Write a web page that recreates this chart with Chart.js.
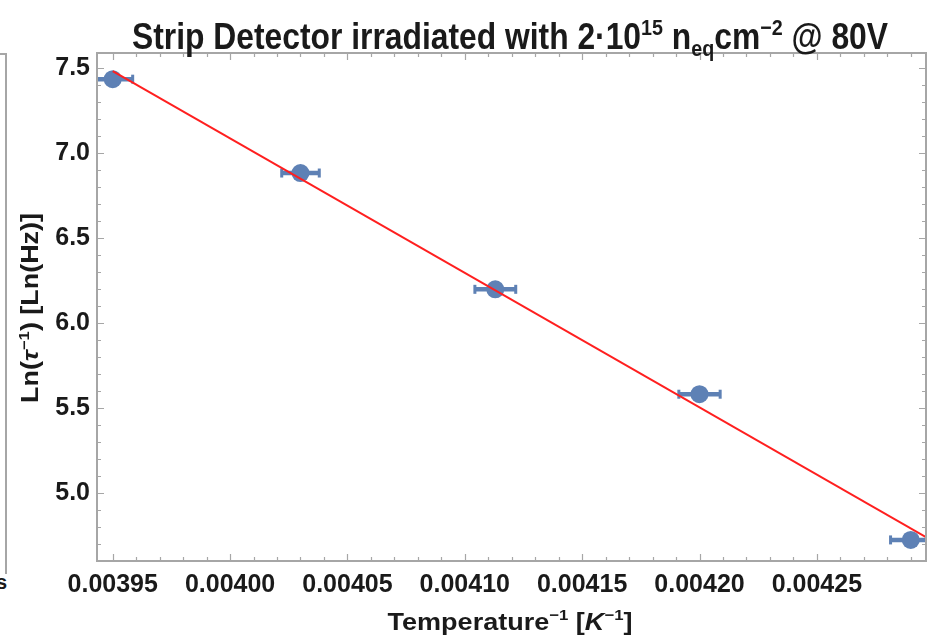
<!DOCTYPE html>
<html>
<head>
<meta charset="utf-8">
<script src="https://cdn.jsdelivr.net/npm/chart.js@4.4.1/dist/chart.umd.min.js"></script>
<style>
  html, body { margin: 0; padding: 0; background: #fff; }
  #wrap { position: relative; width: 928px; height: 641px; }
  #wrap canvas { position: absolute; left: 0; top: 0; }
  /* edge of the neighbouring plot, cut off by the crop */
  #edge { position: absolute; left: 0; top: 53px; width: 5px; height: 519px;
          border-top: 2px solid #a6a6a6; border-right: 2px solid #a6a6a6; }
  #edgeText { position: absolute; left: -4px; top: 571px; font: bold 20px "Liberation Sans", Arial, sans-serif; color: #1a1a1a; }
</style>
</head>
<body>
<div id="wrap">
  <div id="edge"></div>
  <div id="edgeText">s</div>
  <canvas id="chart" width="928" height="641"></canvas>
</div>
<script>
// inverse temperature [1/K] and its error, ln of the rate
const invTemp = [0.00395, 0.00403, 0.004113, 0.0042, 0.00429];
const invTempErr = [0.0000085, 0.000008, 0.0000087, 0.0000088, 0.0000086];
const lnRate = [7.434, 6.882, 6.198, 5.581, 4.724];

// linear fit, end points
const fitX = [0.00395, 0.0042965];
const fitY = [7.482, 4.741];

const xTicks = [0.00395, 0.00400, 0.00405, 0.00410, 0.00415, 0.00420, 0.00425];
const yTicks = [5.0, 5.5, 6.0, 6.5, 7.0, 7.5];

const X_MIN = 0.0039433, X_MAX = 0.0042965;
const Y_MIN = 4.6, Y_MAX = 7.588;

const pointColor = '#5e81b5';
const frameColor = '#a6a6a6';
const textColor = '#1a1a1a';
const FONT = '"Liberation Sans", Arial, sans-serif';

function segFont(seg, size) {
  const s = (seg.sup || seg.sub) ? size * 0.62 : size;
  return (seg.italic ? 'italic ' : '') + 'bold ' + s + 'px ' + FONT;
}

function richWidth(ctx, segs, size) {
  let w = 0;
  segs.forEach(seg => { ctx.font = segFont(seg, size); w += ctx.measureText(seg.t).width; });
  return w;
}

// draws text with super/subscripts centred on cx, squeezed to targetW if given
function drawRich(ctx, segs, cx, baseline, size, targetW) {
  const w = richWidth(ctx, segs, size);
  const sx = targetW ? targetW / w : 1;
  ctx.save();
  ctx.translate(cx, baseline);
  ctx.scale(sx, 1);
  ctx.fillStyle = textColor;
  ctx.textBaseline = 'alphabetic';
  ctx.textAlign = 'left';
  let x = -w / 2;
  segs.forEach(seg => {
    ctx.font = segFont(seg, size);
    let dy = 0;
    if (seg.sup) dy = -size * 0.40;
    if (seg.sub) dy = size * 0.20;
    ctx.fillText(seg.t, x, dy);
    x += ctx.measureText(seg.t).width;
  });
  ctx.restore();
}

const titleSegs = [
  { t: 'Strip Detector irradiated with 2\u00b710' }, { t: '15', sup: true },
  { t: ' n' }, { t: 'eq', sub: true }, { t: 'cm' }, { t: '\u22122', sup: true },
  { t: ' @ 80V' }
];
const xTitleSegs = [
  { t: 'Temperature' }, { t: '\u22121', sup: true }, { t: ' [' },
  { t: 'K', italic: true }, { t: '\u22121', sup: true }, { t: ']' }
];
const yTitleSegs = [
  { t: 'Ln(' }, { t: '\u03c4', italic: true }, { t: '\u22121', sup: true },
  { t: ') [Ln(Hz)]' }
];

const errorBars = {
  id: 'errorBars',
  beforeDatasetsDraw(chart) {
    const { ctx, chartArea: a, scales: { x, y } } = chart;
    ctx.save();
    ctx.beginPath();
    ctx.rect(a.left, a.top, a.right - a.left, a.bottom - a.top);
    ctx.clip();
    ctx.strokeStyle = pointColor;
    ctx.fillStyle = pointColor;
    ctx.lineWidth = 4.5;
    invTemp.forEach((v, i) => {
      const x0 = x.getPixelForValue(v - invTempErr[i]);
      const x1 = x.getPixelForValue(v + invTempErr[i]);
      const py = y.getPixelForValue(lnRate[i]);
      ctx.beginPath();
      ctx.moveTo(x0, py);
      ctx.lineTo(x1, py);
      ctx.stroke();
      ctx.fillRect(x0 - 1.5, py - 4.5, 3, 9);
      ctx.fillRect(x1 - 1.5, py - 4.5, 3, 9);
    });
    ctx.restore();
  }
};

const framePlugin = {
  id: 'frame',
  afterDraw(chart) {
    const { ctx, chartArea: a, scales: { x, y } } = chart;
    ctx.save();
    ctx.strokeStyle = frameColor;
    ctx.lineWidth = 2;
    ctx.strokeRect(a.left, a.top, a.right - a.left, a.bottom - a.top);

    ctx.lineWidth = 1.2;
    ctx.beginPath();
    // x ticks, bottom and top, pointing inward
    for (let k = -1; k < 40; k++) {
      const v = 0.00395 + k * 0.00001;
      if (v < X_MIN || v > X_MAX) continue;
      const px = Math.round(x.getPixelForValue(v)) + 0.5;
      const len = (k % 5 === 0) ? 7 : 4;
      ctx.moveTo(px, a.bottom); ctx.lineTo(px, a.bottom - len);
      ctx.moveTo(px, a.top); ctx.lineTo(px, a.top + len);
    }
    // y ticks, left and right
    for (let k = -5; k < 40; k++) {
      const v = 5.0 + k * 0.1;
      if (v < Y_MIN || v > Y_MAX) continue;
      const py = Math.round(y.getPixelForValue(v)) + 0.5;
      const len = (((k % 5) + 5) % 5 === 0) ? 7 : 4;
      ctx.moveTo(a.left, py); ctx.lineTo(a.left + len, py);
      ctx.moveTo(a.right, py); ctx.lineTo(a.right - len, py);
    }
    ctx.stroke();
    ctx.restore();

    drawRich(ctx, titleSegs, 510, 49, 36, 756);
    drawRich(ctx, xTitleSegs, 510, 630, 24, 245);
    ctx.save();
    ctx.translate(38, 308);
    ctx.rotate(-Math.PI / 2);
    drawRich(ctx, yTitleSegs, 0, 0, 23, 190);
    ctx.restore();
  }
};

const tickFont = { family: FONT, weight: 'bold', size: 25 };

new Chart(document.getElementById('chart').getContext('2d'), {
  type: 'scatter',
  data: {
    datasets: [
      {
        type: 'line',
        label: 'fit',
        data: fitX.map((v, i) => ({ x: v, y: fitY[i] })),
        borderColor: '#ff1f1f',
        borderWidth: 2,
        pointRadius: 0,
        order: 0
      },
      {
        label: 'data',
        data: invTemp.map((v, i) => ({ x: v, y: lnRate[i] })),
        backgroundColor: pointColor,
        borderWidth: 0,
        pointRadius: 9,
        order: 1
      }
    ]
  },
  options: {
    responsive: false,
    animation: false,
    layout: { autoPadding: false, padding: { top: 53, right: 2, left: 0, bottom: 0 } },
    plugins: {
      legend: { display: false },
      tooltip: { enabled: false }
    },
    scales: {
      x: {
        type: 'linear',
        min: X_MIN,
        max: X_MAX,
        grid: { display: false, drawTicks: false },
        border: { display: false },
        afterBuildTicks: s => { s.ticks = xTicks.map(v => ({ value: v })); },
        afterFit: s => { s.height = 80; s.paddingLeft = 0; s.paddingRight = 0; },
        ticks: {
          padding: 9,
          color: textColor,
          font: tickFont,
          maxRotation: 0,
          autoSkip: false,
          callback: v => Number(v).toFixed(5)
        }
      },
      y: {
        type: 'linear',
        min: Y_MIN,
        max: Y_MAX,
        grid: { display: false, drawTicks: false },
        border: { display: false },
        afterBuildTicks: s => { s.ticks = yTicks.map(v => ({ value: v })); },
        afterFit: s => { s.width = 97; s.paddingTop = 0; s.paddingBottom = 0; },
        ticks: {
          padding: 7,
          color: textColor,
          font: tickFont,
          autoSkip: false,
          callback: v => Number(v).toFixed(1)
        }
      }
    }
  },
  plugins: [errorBars, framePlugin]
});
</script>
</body>
</html>
